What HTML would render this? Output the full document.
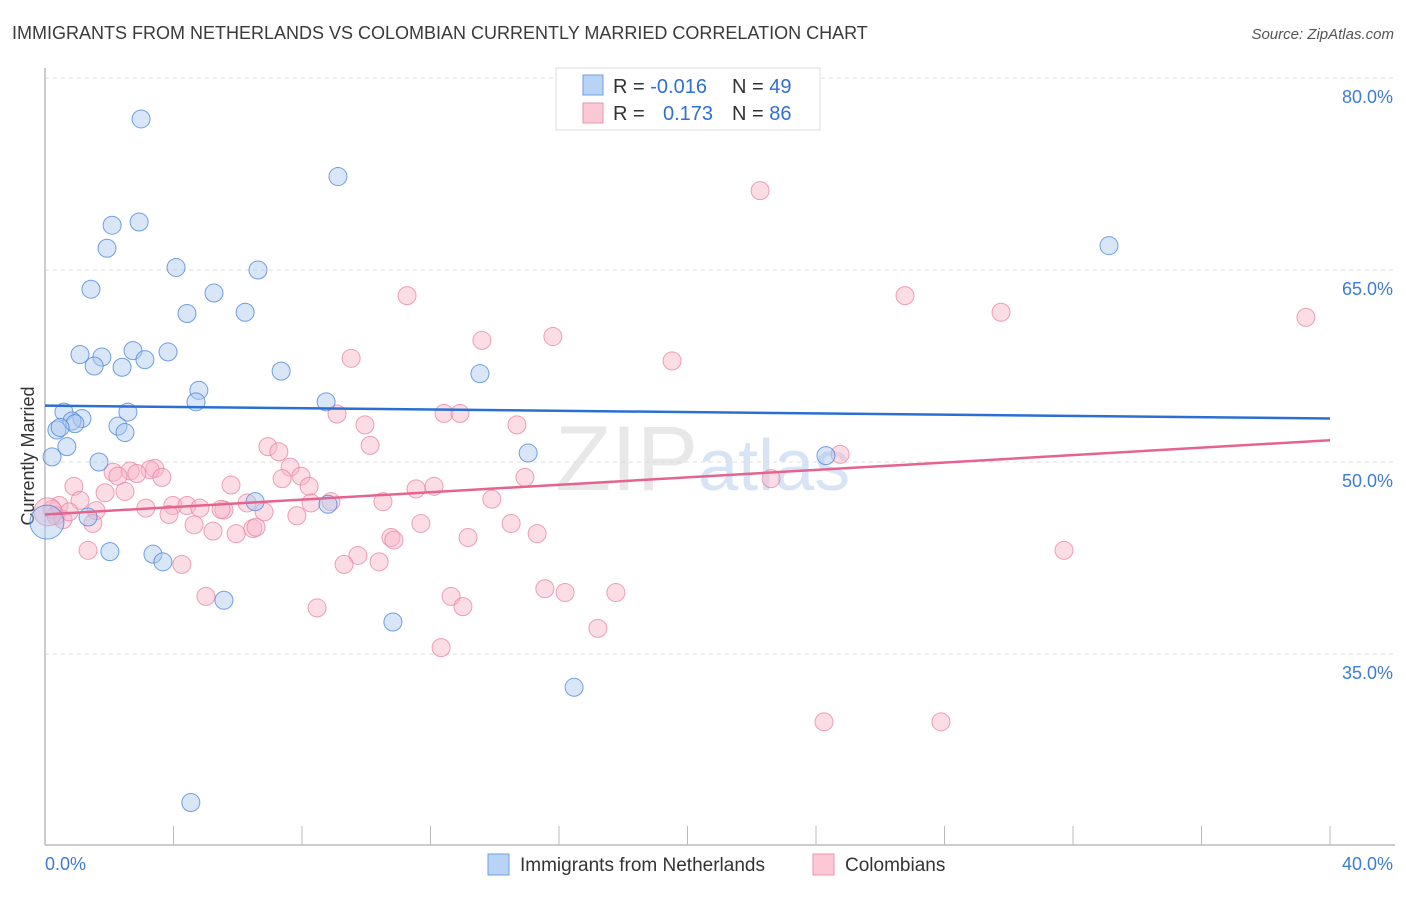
<!DOCTYPE html>
<html><head><meta charset="utf-8"><style>
body{margin:0;background:#fff;font-family:"Liberation Sans",sans-serif;}
svg text{font-family:"Liberation Sans",sans-serif;}
</style></head><body>
<svg id="chart" width="1406" height="892" xmlns="http://www.w3.org/2000/svg">
<text x="12" y="39" font-size="18" fill="#3a3a3a">IMMIGRANTS FROM NETHERLANDS VS COLOMBIAN CURRENTLY MARRIED CORRELATION CHART</text>
<text x="1394" y="39" font-size="15" fill="#555" text-anchor="end" font-style="italic">Source: ZipAtlas.com</text>
<text transform="translate(34,456) rotate(-90)" font-size="18" fill="#333" text-anchor="middle">Currently Married</text>
<text x="555" y="490" font-size="92" fill="#e8e8e8" font-family="Liberation Serif">ZIP<tspan fill="#d6e4f5" font-family="Liberation Sans" font-size="72">atlas</tspan></text>
<g id="grid"></g><g id="axes"></g><g id="pts"></g><g id="trend"></g>
<g>
<rect x="556" y="68" width="264" height="62" fill="#fff" stroke="#ddd"/>
<rect x="583" y="75" width="20" height="20" fill="#b8d3f5" stroke="#6fa0e0"/>
<rect x="583" y="103" width="20" height="20" fill="#fbc8d6" stroke="#eb93ac"/>
<text x="613" y="93" font-size="20" fill="#333">R = <tspan fill="#2f6fd6">-0.016</tspan><tspan x="732">N = </tspan><tspan fill="#2f6fd6">49</tspan></text>
<text x="613" y="120" font-size="20" fill="#333">R = <tspan x="663" fill="#2f6fd6">0.173</tspan><tspan x="732">N = </tspan><tspan fill="#2f6fd6">86</tspan></text>
</g>
<g>
<rect x="488" y="854" width="21" height="21" fill="#b8d3f5" stroke="#6fa0e0"/>
<text x="520" y="871" font-size="19" fill="#333">Immigrants from Netherlands</text>
<rect x="813" y="854" width="21" height="21" fill="#fbc8d6" stroke="#eb93ac"/>
<text x="845" y="871" font-size="19" fill="#333">Colombians</text>
</g>
</svg>
<script>
const blueX=[2.99,9.12,2.09,2.93,1.93,4.08,6.63,1.43,5.26,4.42,6.23,1.09,1.77,1.53,2.74,3.11,2.40,3.83,7.35,13.54,4.79,4.70,8.75,0.59,1.15,2.58,0.84,0.93,0.37,0.47,2.27,2.49,0.68,0.22,1.68,15.04,24.31,33.12,6.54,8.81,1.34,2.02,3.36,3.67,5.57,10.83,16.47,4.54,0.06];
const blueY=[76.8,72.3,68.5,68.75,66.7,65.2,65.0,63.5,63.2,61.6,61.7,58.4,58.2,57.5,58.7,58.0,57.4,58.6,57.1,56.9,55.6,54.7,54.7,53.9,53.4,53.9,53.2,53.0,52.5,52.7,52.8,52.3,51.2,50.4,50.0,50.7,50.5,66.9,46.9,46.7,45.7,43.0,42.8,42.2,39.2,37.5,32.4,23.4,45.3];
const pinkX=[22.26,11.27,26.77,29.76,39.25,15.81,13.60,9.53,19.52,9.09,12.42,12.92,9.96,14.69,10.12,6.94,7.28,7.63,7.97,3.42,3.27,2.65,2.12,2.27,2.86,3.64,5.79,0.90,7.38,8.22,11.55,12.11,1.87,2.49,13.91,1.09,3.14,3.98,4.42,4.82,5.57,5.48,6.29,8.90,10.52,8.28,7.84,6.82,3.86,1.59,0.44,0.22,0.34,0.56,1.49,4.64,5.23,5.95,6.47,6.57,11.70,14.51,10.77,10.86,13.17,15.32,1.34,4.26,9.74,9.31,10.40,15.56,16.19,12.64,13.01,17.77,5.01,8.47,17.21,12.33,31.72,22.60,24.75,24.25,27.89,14.94,0.75,0.09];
const pinkY=[71.2,63.0,63.0,61.7,61.3,59.8,59.5,58.1,57.9,53.75,53.8,53.8,52.9,52.9,51.3,51.2,50.8,49.6,48.9,49.5,49.4,49.3,49.2,48.9,49.1,48.8,48.2,48.1,48.7,48.1,47.9,48.1,47.6,47.7,47.1,47.0,46.4,46.6,46.6,46.4,46.25,46.3,46.8,46.9,46.9,46.8,45.8,46.1,45.9,46.2,46.6,46.3,45.8,45.5,45.2,45.1,44.6,44.4,44.8,44.9,45.2,45.2,44.1,43.9,44.1,44.4,43.1,42.0,42.7,42.0,42.2,40.1,39.8,39.5,38.7,39.8,39.5,38.6,37.0,35.5,43.1,48.7,50.6,29.7,29.7,48.8,46.1,46.1];
const yTicks=[80,65,50,35];
const xTickLabels=["0.0%","40.0%"];
const blueTrend=[54.4,53.4];
const pinkTrend=[45.9,51.7];
const NS="http://www.w3.org/2000/svg";
const X=v=>45+v*(1285/40);
const Y=v=>462-(v-50)*12.8;
function mk(parent,tag,attrs){const e=document.createElementNS(NS,tag);for(const k in attrs)e.setAttribute(k,attrs[k]);document.getElementById(parent).appendChild(e);return e;}
yTicks.forEach(t=>{
 const l=mk('grid','line',{x1:45,x2:1395,y1:Y(t),y2:Y(t),stroke:'#ddd','stroke-dasharray':'4,4'});
 
 
 const tx=mk('grid','text',{x:1393,y:Y(t)+25,'font-size':18,fill:'#3d7bd8','text-anchor':'end'});
 tx.textContent=t.toFixed(1)+'%';
 
 
});
const ax=mk('axes','line',{x1:45,x2:1395,y1:845,y2:845,stroke:'#bbb','stroke-width':1.5});


const ay=mk('axes','line',{x1:45,x2:45,y1:68,y2:845,stroke:'#bbb','stroke-width':1.5});


for(let i=0;i<=10;i++){
 const t=mk('axes','line',{x1:X(i*4),x2:X(i*4),y1:826,y2:845,stroke:'#bbb'});
 
 
}
const xl0=mk('axes','text',{x:45,y:870,'font-size':18,fill:'#3d7bd8'});xl0.textContent=xTickLabels[0];


const xl1=mk('axes','text',{x:1393,y:870,'font-size':18,fill:'#3d7bd8','text-anchor':'end'});xl1.textContent=xTickLabels[1];


pinkX.forEach((x,i)=>{
 const c=mk('pts','circle',{cx:X(x),cy:Y(pinkY[i]),r:i===pinkX.length-1?14:9,fill:'rgba(248,180,200,0.45)',stroke:'rgba(232,130,160,0.75)','stroke-width':1});
 
 
});
blueX.forEach((x,i)=>{
 const c=mk('pts','circle',{cx:X(x),cy:Y(blueY[i]),r:i===blueX.length-1?17:9,fill:'rgba(170,200,240,0.45)',stroke:'rgba(70,130,220,0.75)','stroke-width':1});
 
 
});
const bt=mk('trend','line',{x1:X(0),x2:X(40),y1:Y(blueTrend[0]),y2:Y(blueTrend[1]),stroke:'#2b6fd3','stroke-width':2.5});


const pt=mk('trend','line',{x1:X(0),x2:X(40),y1:Y(pinkTrend[0]),y2:Y(pinkTrend[1]),stroke:'#e5638d','stroke-width':2.5});


</script>
</body></html>
